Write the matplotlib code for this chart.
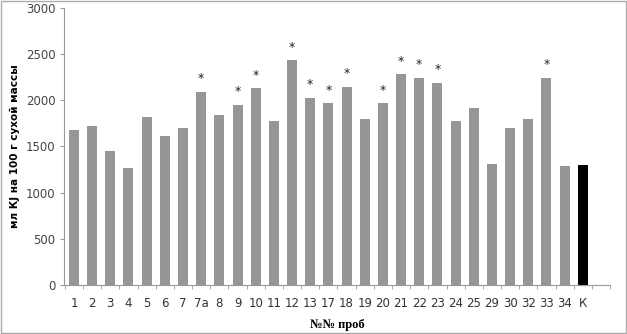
import matplotlib
matplotlib.use("Agg")
import matplotlib.pyplot as plt
import numpy as np

categories = ["1", "2", "3", "4", "5", "6", "7", "7а", "8", "9", "10", "11", "12", "13",
              "17", "18", "19", "20", "21", "22", "23", "24", "25", "29", "30", "32",
              "33", "34", "К"]
values = [1680, 1720, 1450, 1265, 1820, 1618, 1704, 2091, 1838, 1950, 2131, 1780, 2437, 2028,
          1968, 2145, 1802, 1968, 2282, 2246, 2188, 1780, 1914, 1314, 1704, 1802,
          2246, 1285, 1304]
significant = ["7а", "9", "10", "12", "13", "17", "18", "20", "21", "22", "23", "33"]
y_ticks = [0, 500, 1000, 1500, 2000, 2500, 3000]

fig = plt.figure(figsize=(6.27, 3.34), dpi=100)
ax = fig.add_axes([0.102, 0.147, 0.871, 0.829])

x = np.arange(len(categories))
colors = ["#000000" if c == "К" else "#969696" for c in categories]
ax.bar(x, values, width=0.55, color=colors, zorder=2)

for xi, c, v in zip(x, categories, values):
    if c in significant:
        ax.text(xi, v + 70, "*", ha="center", va="bottom", fontsize=9, color="#222222")

ax.set_ylim(0, 3000)
ax.set_xlim(-0.55, len(categories) + 0.15)
ax.set_yticks(y_ticks)
ax.set_yticklabels([str(t) for t in y_ticks], fontsize=8.5, color="#444444")
ax.set_xticks(x)
ax.set_xticklabels(categories, fontsize=8.5, color="#333333")
ax.set_xticks(np.arange(-0.5, len(categories) + 0.6, 1), minor=True)
ax.tick_params(axis="x", which="major", length=0, pad=9)
ax.tick_params(axis="x", which="minor", length=3, color="#999999", direction="out")
ax.tick_params(axis="y", length=3, color="#999999", direction="out", pad=3)

for s in ["top", "right"]:
    ax.spines[s].set_visible(False)
for s in ["left", "bottom"]:
    ax.spines[s].set_color("#999999")
    ax.spines[s].set_linewidth(0.8)

ax.set_ylabel("мл КJ на 100 г сухой массы", fontsize=7.5, fontweight="bold", labelpad=4)
ax.set_xlabel("№№ проб", fontsize=9, fontweight="bold", family="Liberation Serif", labelpad=6)

# outer border of the figure
border = plt.Rectangle((0.001, 0.002), 0.997, 0.995, transform=fig.transFigure,
                       fill=False, edgecolor="#aaaaaa", linewidth=1.0)
fig.patches.append(border)

fig.savefig("out.png", dpi=100)
